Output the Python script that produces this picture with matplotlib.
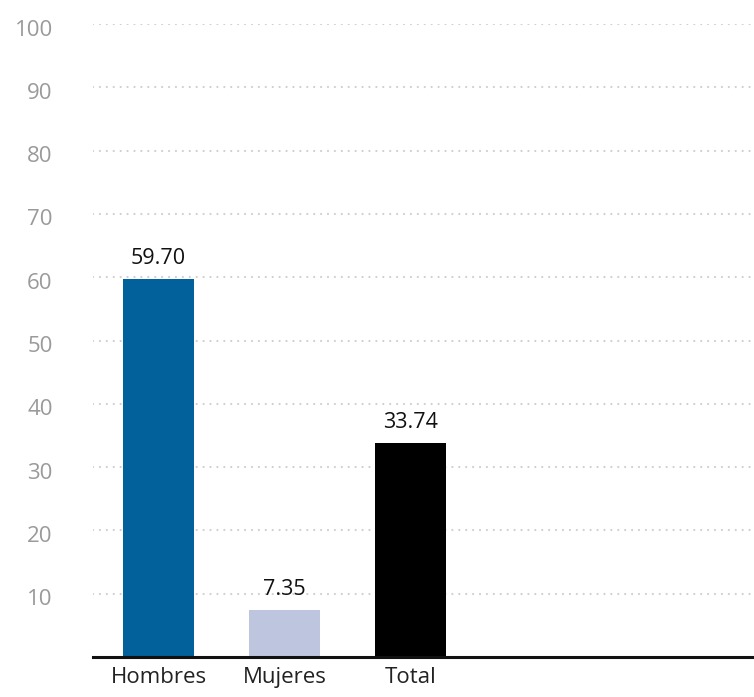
import matplotlib
matplotlib.use("Agg")
import matplotlib.pyplot as plt
import matplotlib.transforms as mtransforms

categories = ["Hombres", "Mujeres", "Total"]
values = [59.70, 7.35, 33.74]
bar_colors = ["#02609a", "#bec6df", "#000000"]
y_ticks = [10, 20, 30, 40, 50, 60, 70, 80, 90, 100]

plt.rcParams["font.family"] = ["Open Sans", "DejaVu Sans"]

fig = plt.figure(figsize=(7.54, 6.97), dpi=100)
ax = fig.add_axes([93 / 754, 40 / 697, 1 - 93 / 754, 633 / 697])

x = list(range(len(categories)))
ax.bar(x, values, width=0.565, color=bar_colors, zorder=3)

for xi, v in zip(x, values):
    ax.text(xi, v + 1.6, f"{v:.2f}", ha="center", va="bottom",
            fontsize=15.5, color="#111111", zorder=4)

ax.set_xlim(-0.52, 4.73)
ax.set_ylim(0, 100)
ax.set_yticks(y_ticks)
ax.set_yticklabels([str(t) for t in y_ticks])
ax.set_xticks(x)
ax.set_xticklabels(categories)

ax.tick_params(axis="y", length=0, pad=29, labelsize=16, labelcolor="#9a9a9a")
ax.tick_params(axis="x", length=0, pad=7, labelsize=16, labelcolor="#222222")

# nudge y labels a few pixels down, like the original
shift = mtransforms.ScaledTranslation(0, -6 / 100, fig.dpi_scale_trans)
for lab in ax.get_yticklabels():
    lab.set_verticalalignment("center")
    lab.set_transform(lab.get_transform() + shift)

ax.yaxis.grid(True, color="#cfcfcf", linewidth=1.6,
              linestyle=(0, (0.01, 3.1)), dash_capstyle="round", zorder=0)
ax.set_axisbelow(True)

for side in ["top", "right", "left"]:
    ax.spines[side].set_visible(False)
ax.spines["bottom"].set_linewidth(2.2)
ax.spines["bottom"].set_color("#111111")
ax.spines["bottom"].set_zorder(5)

fig.savefig("out.png", dpi=100)
